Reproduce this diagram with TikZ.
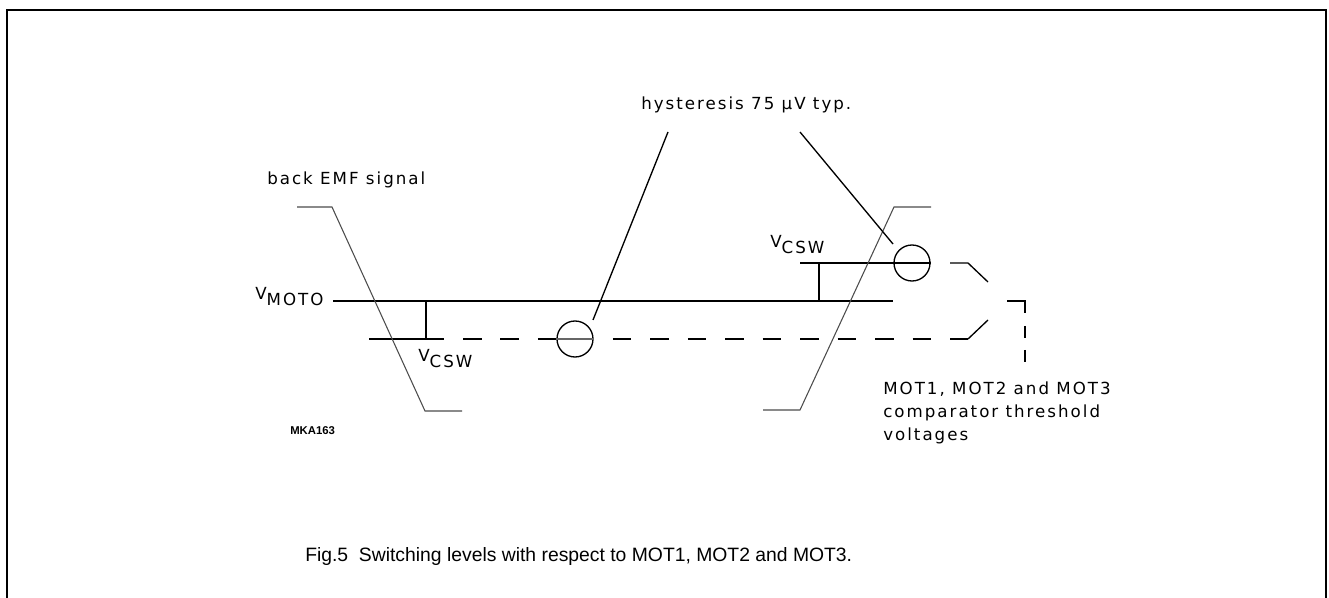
\documentclass[tikz,border=0pt]{standalone}
\usepackage{fontspec}
\setmainfont{Liberation Sans}
\newfontfamily\plotfont[LetterSpace=12]{DejaVu Sans}
\newfontfamily\codefont{Liberation Sans Bold}

\begin{document}
\begin{tikzpicture}[x=0.75pt,y=-0.75pt,
	level/.style={line width=1pt},
	signal/.style={line width=0.8pt,black!70},
	gapdash/.style={line width=1pt,dash pattern=on 13.9pt off 14.2pt},
	hyst/.style={shape=circle,draw=black,line width=1pt,minimum size=27pt,inner sep=0pt},
	lbl/.style={font=\plotfont\fontsize{12.5}{17.25}\selectfont,inner sep=0pt,anchor=west}]
	\useasboundingbox (0,0) rectangle (1329,598);

	% frame
	\draw[line width=1.6pt] (7,598) -- (7,10) -- (1326,10) -- (1326,598);

	% labels
	\node[lbl] (emf)  at (267,180) {back EMF signal};
	\node[lbl] (hys)  at (641,105) {hysteresis 75 µV typ.};
	\node[lbl] (mot0) at (255,297) {V\raisebox{-4.5pt}{MOTO}};
	\node[lbl] (csw1) at (418,359) {V\raisebox{-4.5pt}{CSW}};
	\node[lbl] (csw2) at (770,245) {V\raisebox{-4.5pt}{CSW}};
	\node[lbl,anchor=north west,align=left] (thr) at (883,382)
		{MOT1, MOT2 and MOT3\\comparator threshold\\voltages};
	\node[inner sep=0pt,anchor=west,font=\codefont\fontsize{8.5}{10}\selectfont] (code) at (290,431) {MKA163};

	% level lines
	\coordinate (m0a) at (333,301);
	\coordinate (m0b) at (893,301);
	\draw[level] (m0a) -- (m0b);

	\coordinate (lowa) at (369,339);
	\coordinate (lowb) at (444,339);
	\coordinate (lowc) at (463,339);
	\coordinate (lowd) at (968,339);
	\coordinate (lowe) at (988,320);
	\draw[level] (lowa) -- (lowb);
	\draw[gapdash] (lowc) -- (lowd);
	\draw[level] (lowd) -- (lowe);

	\coordinate (upa) at (800,263);
	\coordinate (upb) at (931,263);
	\coordinate (upc) at (950,263);
	\coordinate (upd) at (968,263);
	\coordinate (upe) at (988,282);
	\draw[level] (upa) -- (upb);
	\draw[level] (upc) -- (upd) -- (upe);

	% hysteresis circles
	\node[hyst] (hysA) at (575,339) {};
	\node[hyst] (hysB) at (912,263) {};
	\draw[line width=0.8pt,black!60] (hysA.west) -- (hysA.east);

	% V_CSW steps
	\coordinate (t1a) at (426,301);
	\coordinate (t1b) at (426,339);
	\coordinate (t2a) at (819,263);
	\coordinate (t2b) at (819,301);
	\draw[level] (t1a) -- (t1b);
	\draw[level] (t2a) -- (t2b);

	% threshold bracket
	\coordinate (bra) at (1007,301);
	\coordinate (brb) at (1025,301);
	\draw[level] (bra) -- (brb) -- (1025,313);
	\draw[level] (1025,326) -- (1025,338);
	\draw[level] (1025,350) -- (1025,362);

	% back EMF signal
	\draw[signal] (297,207) -- (332,207) -- (425,411) -- (462,411);
	\draw[signal] (763,410) -- (800,410) -- (894,207) -- (931,207);

	% leaders
	\coordinate (lA) at (668,132);
	\coordinate (lAe) at (593,320);
	\coordinate (lB) at (800,132);
	\coordinate (lBe) at (893,244);
	\draw[level] (lA) -- (lAe);
	\draw[level] (lB) -- (lBe);

	% caption
	\node[inner sep=0pt,anchor=west,font=\fontsize{14.5}{17}\selectfont] (cap) at (305,557)
		{Fig.5\ \ Switching levels with respect to MOT1, MOT2 and MOT3.};
\end{tikzpicture}
\end{document}
